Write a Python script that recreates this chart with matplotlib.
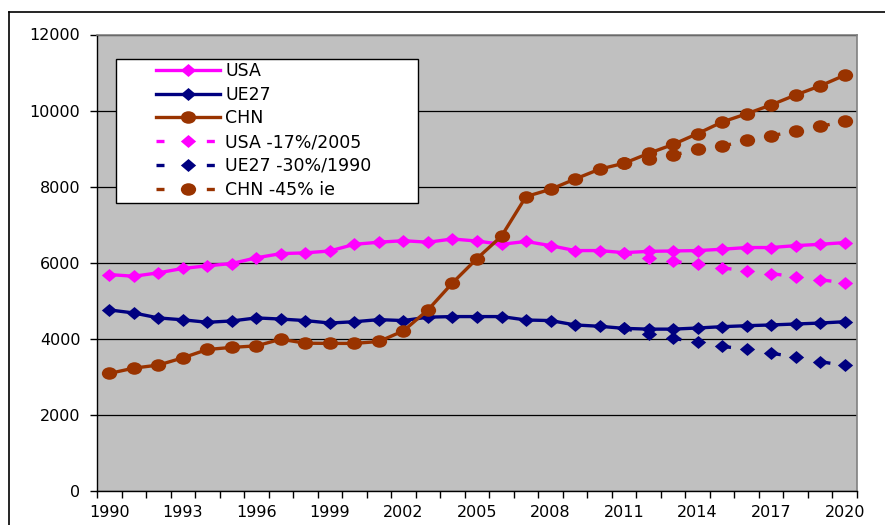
import matplotlib
matplotlib.use("Agg")
import matplotlib.pyplot as plt
import numpy as np
from matplotlib.lines import Line2D
from matplotlib.patches import Rectangle
from matplotlib.path import Path

years = list(range(1990, 2021))
usa = [5690, 5645, 5735, 5850, 5920, 5980, 6130, 6240, 6260, 6310,
       6485, 6540, 6580, 6540, 6625, 6570, 6485, 6560, 6450, 6320,
       6320, 6265, 6300, 6310, 6320, 6355, 6400, 6400, 6450, 6485, 6530]
ue27 = [4760, 4680, 4550, 4500, 4435, 4470, 4550, 4520, 4480, 4415,
        4450, 4505, 4480, 4570, 4585, 4585, 4585, 4495, 4480, 4365,
        4330, 4275, 4255, 4255, 4285, 4320, 4345, 4365, 4390, 4415, 4450]
chn = [3090, 3230, 3310, 3500, 3720, 3775, 3815, 3990, 3885, 3880,
       3880, 3930, 4210, 4760, 5470, 6110, 6700, 7740, 7930, 8200,
       8460, 8615, 8875, 9110, 9395, 9700, 9915, 10150, 10410, 10650, 10930]

target_years = list(range(2011, 2021))
usa_target = [6265, 6130, 6040, 5955, 5865, 5785, 5715, 5630, 5555, 5470]
ue27_target = [4275, 4125, 4010, 3920, 3800, 3730, 3620, 3525, 3400, 3300]
chn_target = [8615, 8720, 8830, 8980, 9065, 9215, 9340, 9455, 9585, 9715]

labels = ["USA", "UE27", "CHN", "USA -17%/2005", "UE27 -30%/1990", "CHN -45% ie"]

plt.rcParams["font.family"] = ["DejaVu Sans"]

MAGENTA = "#FF00FF"
NAVY = "#000080"
BROWN = "#993300"

# excel markers are a bit squashed vertically
circ = Path.unit_circle()
ellipse = Path(circ.vertices * np.array([1.0, 0.82]), circ.codes)
diamond = Path([(0, 0.85), (1, 0), (0, -0.85), (-1, 0), (0, 0.85)],
               [Path.MOVETO, Path.LINETO, Path.LINETO, Path.LINETO, Path.CLOSEPOLY])

W, H = 885, 525
fig = plt.figure(figsize=(W / 100, H / 100), dpi=100)
ax = fig.add_axes([97 / W, (H - 491) / H, (857 - 97) / W, (491 - 34.5) / H])
ax.set_facecolor("#C0C0C0")

solid = dict(lw=2.4, markersize=11, markeredgewidth=0, zorder=3)
dashed = dict(lw=2.4, markersize=11, markeredgewidth=0, zorder=3.5,
              linestyle=(0, (2.4, 12.7)))

ax.plot(years, usa, color=MAGENTA, marker=diamond, label=labels[0], **solid)
ax.plot(years, ue27, color=NAVY, marker=diamond, label=labels[1], **solid)
ax.plot(years, chn, color=BROWN, marker=ellipse, label=labels[2], **solid)
ax.plot(target_years, usa_target, color=MAGENTA, marker=diamond, label=labels[3], **dashed)
ax.plot(target_years, ue27_target, color=NAVY, marker=diamond, label=labels[4], **dashed)
ax.plot(target_years, chn_target, color=BROWN, marker=ellipse, label=labels[5], **dashed)

ax.set_xlim(1989.5, 2020.5)
ax.set_ylim(0, 12000)
ax.set_yticks(np.arange(0, 12001, 2000))
ax.set_xticks(range(1990, 2021, 3))
ax.set_xticks(np.arange(1989.5, 2021, 1.0), minor=True)
ax.tick_params(axis="x", which="major", length=0, pad=10, labelsize=11.5)
ax.tick_params(axis="x", which="minor", length=5, width=1, color="black")
ax.tick_params(axis="y", length=5, width=1, pad=7, labelsize=11.5)
ax.grid(axis="y", color="black", lw=0.9, zorder=1)
ax.set_axisbelow(True)

for side in ("top", "right"):
    ax.spines[side].set_color("#808080")
    ax.spines[side].set_linewidth(1.2)
for side in ("left", "bottom"):
    ax.spines[side].set_color("black")
    ax.spines[side].set_linewidth(1.0)

# legend box drawn separately, excel pads it much more on the sides
box = Rectangle((116 / W, (H - 203) / H), (418 - 116) / W, (203 - 59) / H,
                transform=fig.transFigure, facecolor="white", edgecolor="black",
                lw=1.0, zorder=4, clip_on=False)
ax.add_patch(box)
leg = ax.legend(loc="upper left", bbox_to_anchor=(156 / W, (H - 62) / H),
                bbox_transform=fig.transFigure, frameon=False, fontsize=12.5,
                handlelength=3.7, handletextpad=0.3, labelspacing=0.33,
                borderpad=0, borderaxespad=0)
leg.set_zorder(5)

# outer chart frame (only left and top edge fall inside the image)
fig.add_artist(Line2D([8.5 / W, 1], [(H - 12) / H] * 2, transform=fig.transFigure,
                      color="black", lw=1.2))
fig.add_artist(Line2D([8.5 / W] * 2, [0, (H - 12) / H], transform=fig.transFigure,
                      color="black", lw=1.2))

fig.savefig("out.png", dpi=100)
